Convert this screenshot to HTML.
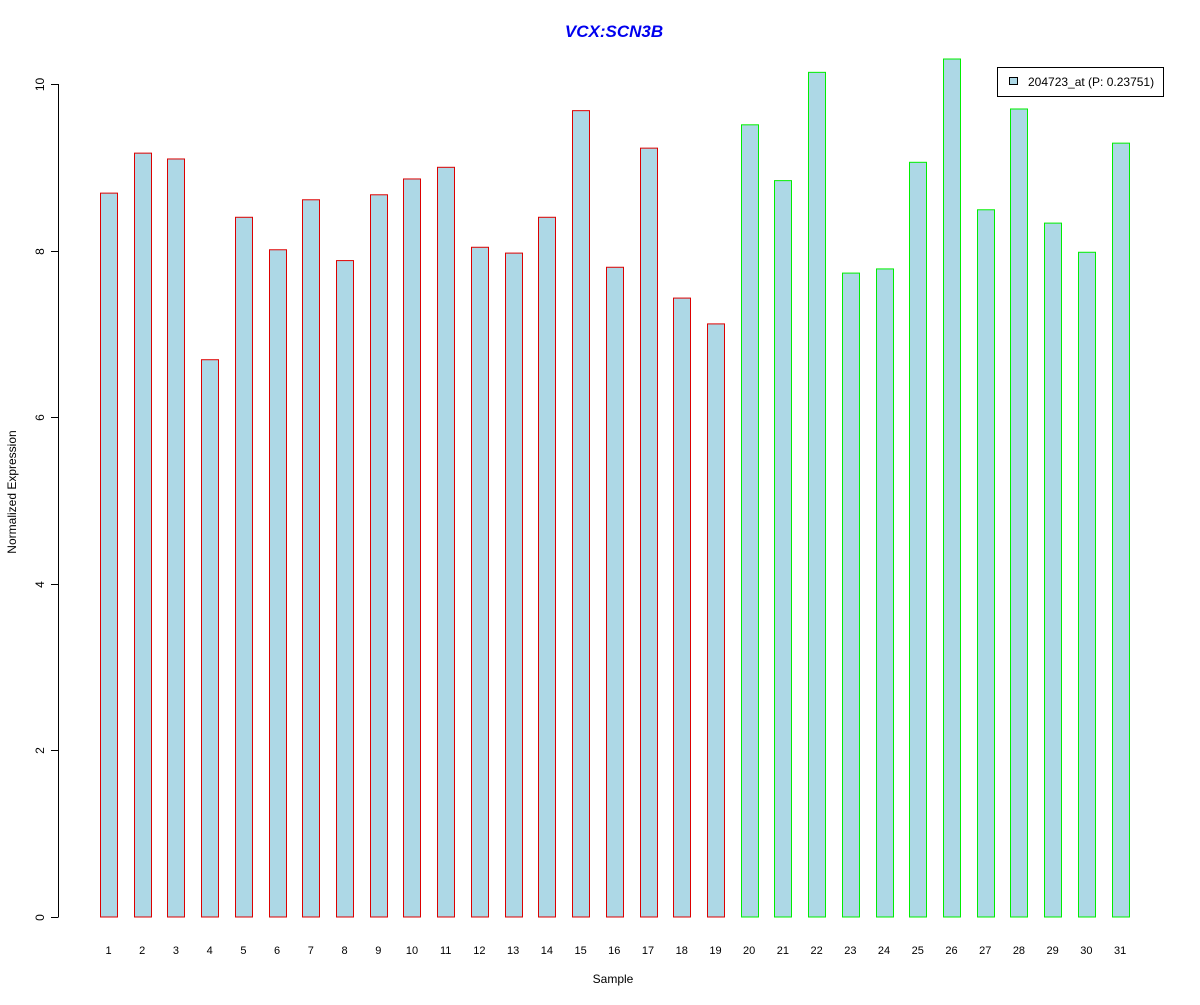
<!DOCTYPE html>
<html><head><meta charset="utf-8"><style>
body{margin:0;background:#fff;}
svg text{font-family:"Liberation Sans",Arial,sans-serif;}
</style></head><body>
<svg id="chart" width="1200" height="1000" xmlns="http://www.w3.org/2000/svg">
<rect width="1200" height="1000" fill="#fff"/>
<text x="614" y="37" text-anchor="middle" font-size="17" font-weight="bold" font-style="italic" fill="#0000ee">VCX:SCN3B</text>
<text transform="translate(16,492) rotate(-90)" text-anchor="middle" font-size="12">Normalized Expression</text>
<text x="613" y="983" text-anchor="middle" font-size="12">Sample</text>
<g id="yaxis"></g>
<g id="bars"></g>
<g id="xlabels"></g>
<g>
<rect x="997.5" y="67.5" width="166" height="29" fill="#fff" stroke="#000"/>
<rect x="1009.5" y="77.5" width="8" height="7" fill="#add8e6" stroke="#000"/>
<text x="1028" y="86" font-size="12">204723_at (P: 0.23751)</text>
</g>
</svg>
<script>
const categories = ["1","2","3","4","5","6","7","8","9","10","11","12","13","14","15","16","17","18","19","20","21","22","23","24","25","26","27","28","29","30","31"];
const values = [8.69,9.17,9.10,6.69,8.40,8.01,8.61,7.88,8.67,8.86,9.00,8.04,7.97,8.40,9.68,7.80,9.23,7.43,7.12,9.51,8.84,10.14,7.73,7.78,9.06,10.30,8.49,9.70,8.33,7.98,9.29];
const groups = [1,1,1,1,1,1,1,1,1,1,1,1,1,1,1,1,1,1,1,2,2,2,2,2,2,2,2,2,2,2,2];
const yTicks = [0,2,4,6,8,10];
const NS="http://www.w3.org/2000/svg";
const y0=917, pxPerUnit=83.3;
function yScale(v){return y0 - v*pxPerUnit;}
function xScale(i){return 108.5 + i*33.72;}
function mk(tag,attrs,parent){const e=document.createElementNS(NS,tag);for(const k in attrs)e.setAttribute(k,attrs[k]);parent.appendChild(e);return e;}
const ya=document.getElementById('yaxis');
mk('line',{x1:58.5,x2:58.5,y1:yScale(yTicks[0]),y2:yScale(yTicks[yTicks.length-1]),stroke:'#000'},ya);
yTicks.forEach(t=>{
  const yy=Math.round(yScale(t))+0.5;
  const tk=mk('line',{x1:51,x2:58.5,y1:yy,y2:yy,stroke:'#000'},ya);
  
  
  const lb=mk('text',{transform:`translate(44,${yy}) rotate(-90)`,'text-anchor':'middle','font-size':12},ya);
  
  
  lb.textContent=t;
});
const bg=document.getElementById('bars'), xl=document.getElementById('xlabels');
values.forEach((v,i)=>{
  const cx=xScale(i);
  const r=mk('rect',{x:Math.round(cx-8.5)+0.5,y:yScale(v),width:17,height:y0-yScale(v),fill:'#add8e6',stroke:groups[i]===1?'#dd0000':'#00ee00'},bg);
  
  
  const t=mk('text',{x:cx,y:954,'text-anchor':'middle','font-size':11},xl);
  
  
  t.textContent=categories[i];
});
</script>
</body></html>
